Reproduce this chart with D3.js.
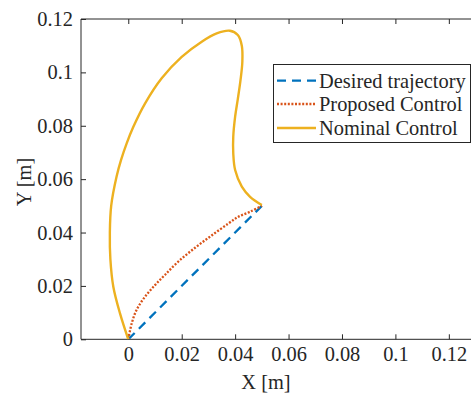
<!DOCTYPE html>
<html><head><meta charset="utf-8">
<script src="https://cdn.jsdelivr.net/npm/d3@7"></script>
<style>html,body{margin:0;padding:0;background:#fff;}svg{display:block;}</style>
</head><body>
<svg id="c" width="471" height="399"></svg>
<script>
const xTicks = [0, 0.02, 0.04, 0.06, 0.08, 0.1, 0.12];
const yTicks = [0, 0.02, 0.04, 0.06, 0.08, 0.1, 0.12];
const seriesNames = ["Desired trajectory", "Proposed Control", "Nominal Control"];
const desiredX = [0, 0.05];
const desiredY = [0, 0.05];
const proposedX = [0, 0.0013, 0.0031, 0.0063, 0.0100, 0.0137, 0.0187, 0.0250, 0.0312, 0.0375, 0.0412, 0.0456, 0.05];
const proposedY = [0, 0.0060, 0.0110, 0.0160, 0.0203, 0.0241, 0.0291, 0.0343, 0.0389, 0.0434, 0.0459, 0.0478, 0.05];
const nominalX = [0, -0.0031, -0.0056, -0.0067, -0.0069, -0.0064, -0.0044, -0.0027, -0.0006, 0.0019, 0.0063, 0.0125, 0.0200, 0.0275, 0.0331, 0.0380, 0.0410, 0.0425, 0.0427, 0.0420, 0.0410, 0.0400, 0.0393, 0.0393, 0.0400, 0.0425, 0.0456, 0.05];
const nominalY = [0, 0.0097, 0.0197, 0.0300, 0.0400, 0.0500, 0.0609, 0.0672, 0.0734, 0.0796, 0.0884, 0.0978, 0.1058, 0.1115, 0.1146, 0.1156, 0.1140, 0.1100, 0.1040, 0.0970, 0.0900, 0.0834, 0.0759, 0.0697, 0.0634, 0.0572, 0.0534, 0.0503];

const svg = d3.select("#c");
const L = 81, R = 471, T = 19, B = 339.3;
const x = d3.scaleLinear().domain([-0.0177, 0.1283]).range([L, R]);
const y = d3.scaleLinear().domain([0, 0.12]).range([B, T]);
const font = "'Liberation Serif','Times New Roman',serif";
const axisCol = "#262626";
const fs = "20.4px";

svg.append("defs").append("clipPath").attr("id","clip")
  .append("rect").attr("x",L).attr("y",T).attr("width",R-L+5).attr("height",B-T);

const fmt = d => d === 0 ? "0" : String(+d.toFixed(2));

// axes
const gB = svg.append("g").attr("transform",`translate(0,${B})`)
  .call(d3.axisBottom(x).tickValues(xTicks).tickSize(-5).tickPadding(6).tickFormat(fmt));
const gT = svg.append("g").attr("transform",`translate(0,${T})`)
  .call(d3.axisTop(x).tickValues(xTicks).tickSize(-5).tickFormat(""));
const gL = svg.append("g").attr("transform",`translate(${L},0)`)
  .call(d3.axisLeft(y).tickValues(yTicks).tickSize(-5).tickPadding(8).tickFormat(fmt));
[gB,gT,gL].forEach(g=>{
  g.select(".domain").attr("stroke",axisCol).attr("stroke-width",1);
  g.selectAll(".tick line").attr("stroke",axisCol).attr("stroke-width",1);
  g.selectAll("text").attr("fill",axisCol).style("font-family",font).style("font-size",fs);
});
gB.select(".domain").attr("d",`M${L},0H${R+5}`);
gT.select(".domain").attr("d",`M${L},0H${R+5}`);
gL.select(".domain").attr("d",`M0,${B}V${T}`);
gB.selectAll("text").attr("dy","0.75em");

// lines
const toPts = (xs,ys)=>xs.map((v,i)=>[v,ys[i]]);
const line = d3.line().x(d=>x(d[0])).y(d=>y(d[1])).curve(d3.curveCatmullRom.alpha(0.5));
const lineLin = d3.line().x(d=>x(d[0])).y(d=>y(d[1]));
const g = svg.append("g").attr("clip-path","url(#clip)");
g.append("path").attr("d",lineLin(toPts(desiredX,desiredY))).attr("fill","none")
  .attr("stroke","#0072BD").attr("stroke-width",2.3).attr("stroke-dasharray","9,6");
g.append("path").attr("d",line(toPts(proposedX,proposedY))).attr("fill","none")
  .attr("stroke","#D95319").attr("stroke-width",2.3).attr("stroke-dasharray","2,1.6");
g.append("path").attr("d",line(toPts(nominalX,nominalY))).attr("fill","none")
  .attr("stroke","#EDB120").attr("stroke-width",2.4);

// labels
svg.append("text").attr("x",266).attr("y",389).attr("text-anchor","middle")
  .attr("fill",axisCol).style("font-family",font).style("font-size",fs).text("X [m]");
svg.append("text").attr("transform","translate(31,182) rotate(-90)").attr("text-anchor","middle")
  .attr("fill",axisCol).style("font-family",font).style("font-size",fs).text("Y [m]");

// legend
const lg = svg.append("g");
lg.append("rect").attr("x",273.5).attr("y",64.5).attr("width",197).attr("height",78)
  .attr("fill","#fff").attr("stroke",axisCol).attr("stroke-width",1);
const styles = [
  {c:"#0072BD", da:"9,6"},
  {c:"#D95319", da:"2,1.6"},
  {c:"#EDB120", da:null}
];
const rowY = [80.7, 104, 128];
seriesNames.forEach((n,i)=>{
  const l = lg.append("line").attr("x1",277).attr("x2",316).attr("y1",rowY[i]).attr("y2",rowY[i])
    .attr("stroke",styles[i].c).attr("stroke-width",2.3);
  if (styles[i].da) l.attr("stroke-dasharray",styles[i].da);
  lg.append("text").attr("x",319).attr("y",rowY[i]).attr("dy","0.35em")
    .attr("fill",axisCol).style("font-family",font).style("font-size",fs).text(n);
});
</script>
</body></html>
